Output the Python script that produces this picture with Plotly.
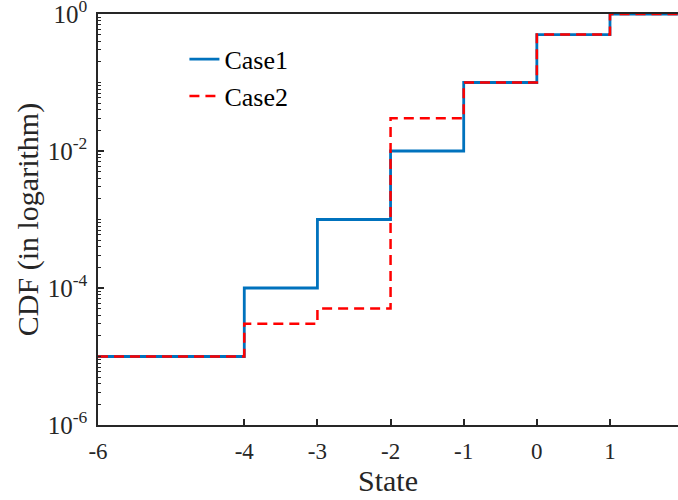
import plotly.graph_objects as go

states = [-6, -4, -3, -2, -1, 0, 1, 2]
case1 = [1e-5, 1e-4, 1e-3, 1e-2, 1e-1, 0.5, 1.0, 1.0]
case2 = [1e-5, 3e-5, 5e-5, 3e-2, 1e-1, 0.5, 1.0, 1.0]
xtick_vals = [-6, -4, -3, -2, -1, 0, 1]
xtick_text = ["-6", "-4", "-3", "-2", "-1", "0", "1"]
ytick_vals = [1e-6, 1e-4, 1e-2, 1e0]
ytick_text = ["10<sup>-6</sup>", "10<sup>-4</sup>", "10<sup>-2</sup>", "10<sup>0</sup>"]

FONT = "Liberation Serif"
AX = "#262626"

fig = go.Figure()
fig.add_trace(go.Scatter(x=states, y=case1, mode="lines", name="Case1",
                         line=dict(shape="hv", color="#0072BD", width=2.8)))
fig.add_trace(go.Scatter(x=states, y=case2, mode="lines", name="Case2",
                         line=dict(shape="hv", color="#FF0000", width=2.5, dash="10px,6px")))

fig.update_layout(
    width=678, height=500,
    margin=dict(l=98, r=0, t=14, b=75, autoexpand=False),
    paper_bgcolor="white", plot_bgcolor="white",
    font=dict(family=FONT, size=24, color=AX),
    legend=dict(x=0.149, y=0.947, xanchor="left", yanchor="top",
                bgcolor="rgba(0,0,0,0)", font=dict(size=26, family=FONT, color="black"),
                tracegroupgap=0),
    showlegend=True,
)
fig.update_xaxes(
    range=[-6, 1.93], tickvals=xtick_vals, ticktext=xtick_text, automargin=False,
    showgrid=False, zeroline=False, showline=True, linecolor=AX, linewidth=1.5,
    mirror=True, ticks="inside", ticklen=6, tickcolor=AX, tickwidth=1.5,
    ticklabelstandoff=5,
    tickfont=dict(size=23, family=FONT, color=AX),
    title=dict(text="State", font=dict(size=30, family=FONT, color=AX), standoff=1),
)
fig.update_yaxes(
    type="log", range=[-6, 0], tickvals=ytick_vals, ticktext=ytick_text, automargin=False,
    showgrid=False, zeroline=False, showline=True, linecolor=AX, linewidth=1.5,
    mirror=True, ticks="inside", ticklen=6, tickcolor=AX, tickwidth=1.5,
    ticklabelstandoff=4, ticklabeloverflow="allow",
    tickfont=dict(size=25, family=FONT, color=AX),
    minor=dict(ticks="inside", ticklen=3, tickcolor=AX, tickwidth=1, dtick="D1", showgrid=False),
    title=dict(text="CDF (in logarithm)", font=dict(size=30, family=FONT, color=AX), standoff=0),
)

# remove the browser's default 8px body margin so the figure fills the window exactly
fig.write_html("out.html", config={"displayModeBar": False},
               post_script="document.body.style.margin='0';document.body.style.overflow='hidden';")
